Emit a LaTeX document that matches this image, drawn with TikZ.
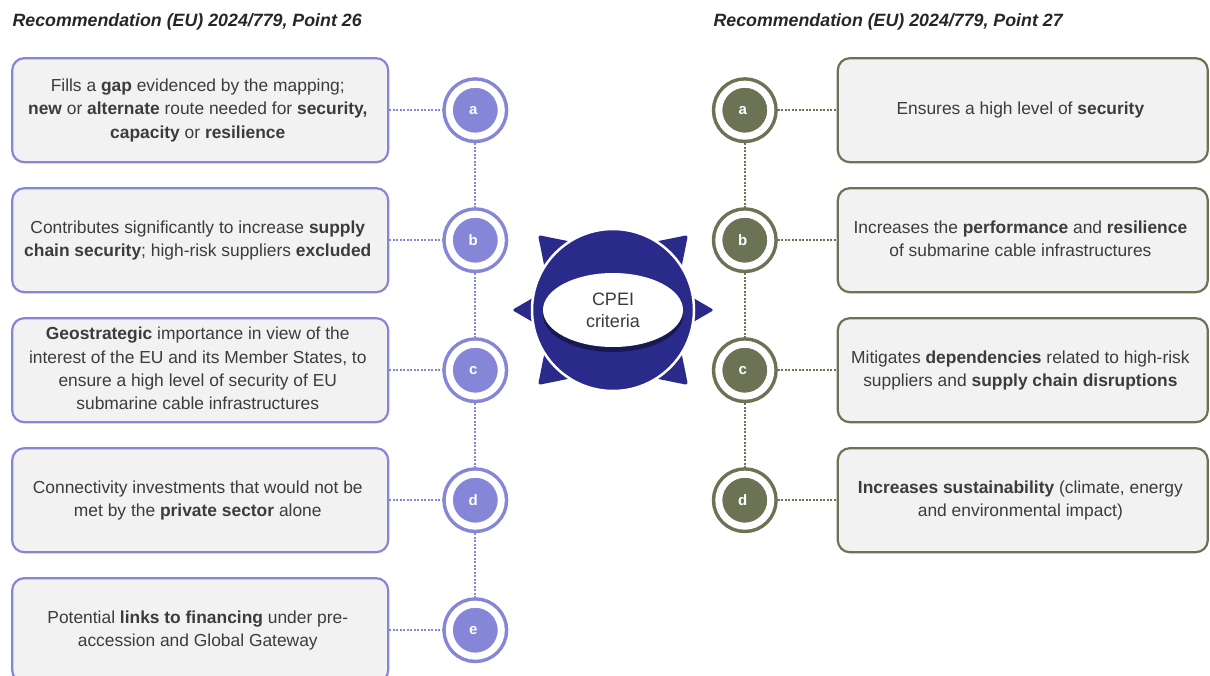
\documentclass[tikz,border=0pt]{standalone}
\usepackage{fontspec}
\setmainfont{Liberation Sans}
\usetikzlibrary{matrix}
\usetikzlibrary{positioning}
\usetikzlibrary{shapes.geometric}
\usetikzlibrary{shadows}

\definecolor{lavender}{HTML}{8686D8}
\definecolor{olive}{HTML}{6C7354}
\definecolor{navy}{HTML}{2A2A8A}
\definecolor{boxgray}{HTML}{F2F2F2}
\definecolor{txt}{HTML}{3C3C3C}
\newcommand{\kw}[1]{\textbf{#1}}
\newcommand{\lns}[1]{\begin{tabular}{@{}c@{}}#1\end{tabular}}

\begin{document}
\begin{tikzpicture}
  [x=1pt, y=-1pt,
   font=\fontsize{17.4}{23.3}\selectfont, text=txt,
   card/.style={draw=#1, fill=boxgray, rounded corners=12pt, line width=2.2pt,
      minimum height=104pt, align=center, inner sep=0pt},
   bullet/.style={circle, fill=#1, draw=#1, line width=3.5pt, double=white,
      double distance=7pt, minimum size=52pt, inner sep=0pt, outer sep=7pt,
      text=white, font=\fontsize{15}{15}\selectfont\bfseries},
   link/.style={draw=#1, line width=2pt, dash pattern=on 2pt off 1.5pt},
   head/.style={anchor=west, text=black!85, font=\fontsize{17.8}{20}\selectfont\bfseries\itshape},
   mat/.style={matrix of nodes, inner sep=0pt,
      nodes={anchor=center},
      row sep=23.8pt},
  ]
  \useasboundingbox (0,0) rectangle (1210,675);
  \clip (0,0) rectangle (1210,675);

  \node[head] (headl) at (9,22) {Recommendation (EU) 2024/779, Point 26};
  \node[head] (headr) at (710,22) {Recommendation (EU) 2024/779, Point 27};

  \matrix[mat, column sep=53pt, anchor=north west,
          nodes={card=lavender, minimum width=376pt}] (lft) at (10.9,56.9)
         {
           \lns{Fills a \kw{gap} evidenced by the mapping;\\ \kw{new} or \kw{alternate} route needed for \kw{security,}\\ \kw{capacity} or \kw{resilience}} & |[bullet=lavender]| a \\
           \lns{Contributes significantly to increase \kw{supply}\\ \kw{chain security}; high-risk suppliers \kw{excluded}} & |[bullet=lavender]| b \\
           \lns{\kw{Geostrategic} importance in view of the\\ interest of the EU and its Member States, to\\ ensure a high level of security of EU\\ submarine cable infrastructures} & |[bullet=lavender]| c \\
           \lns{Connectivity investments that would not be\\ met by the \kw{private sector} alone} & |[bullet=lavender]| d \\
           \lns{Potential \kw{links to financing} under pre-\\ accession and Global Gateway} & |[bullet=lavender]| e \\
         };

  \matrix[mat, column sep=58.9pt, anchor=north east,
          nodes={card=olive, minimum width=370pt}] (rgt) at (1209.1,56.9)
         {
           |[bullet=olive]| a & \lns{Ensures a high level of \kw{security}} \\
           |[bullet=olive]| b & \lns{Increases the \kw{performance} and \kw{resilience}\\ of submarine cable infrastructures} \\
           |[bullet=olive]| c & \lns{Mitigates \kw{dependencies} related to high-risk\\ suppliers and \kw{supply chain disruptions}} \\
           |[bullet=olive]| d & \lns{\kw{Increases sustainability} (climate, energy\\ and environmental impact)} \\
         };

  \foreach \i in {1,...,5}
    \draw[link=lavender] (lft-\i-1) -- (lft-\i-2);
  \foreach \i [count=\j from 2] in {1,...,4}
    \draw[link=lavender] (lft-\i-2) -- (lft-\j-2);
  \foreach \i in {1,...,4}
    \draw[link=olive] (rgt-\i-1) -- (rgt-\i-2);
  \foreach \i [count=\j from 2] in {1,...,3}
    \draw[link=olive] (rgt-\i-1) -- (rgt-\j-1);

  \begin{scope}[shift={(613,310)}]
    \foreach \a in {45,135,225,315}
      \fill[navy, rounded corners=2.5pt] (\a:106) -- (\a+21:72) -- (\a-21:72) -- cycle;
    \foreach \a in {0,180}
      \fill[navy, rounded corners=2.5pt] (\a:101) -- (\a+13:74) -- (\a-13:74) -- cycle;
    \fill[navy, draw=white, line width=2.5pt] (0,0) circle (81);
    \node[ellipse, fill=white, minimum width=140pt, minimum height=74pt, inner sep=0pt,
          align=center, font=\fontsize{18}{22}\selectfont,
          drop shadow={shadow xshift=0pt, shadow yshift=-5pt, fill=black, opacity=0.4}]
          (core) at (0,0) {CPEI\\criteria};
  \end{scope}
\end{tikzpicture}
\end{document}
